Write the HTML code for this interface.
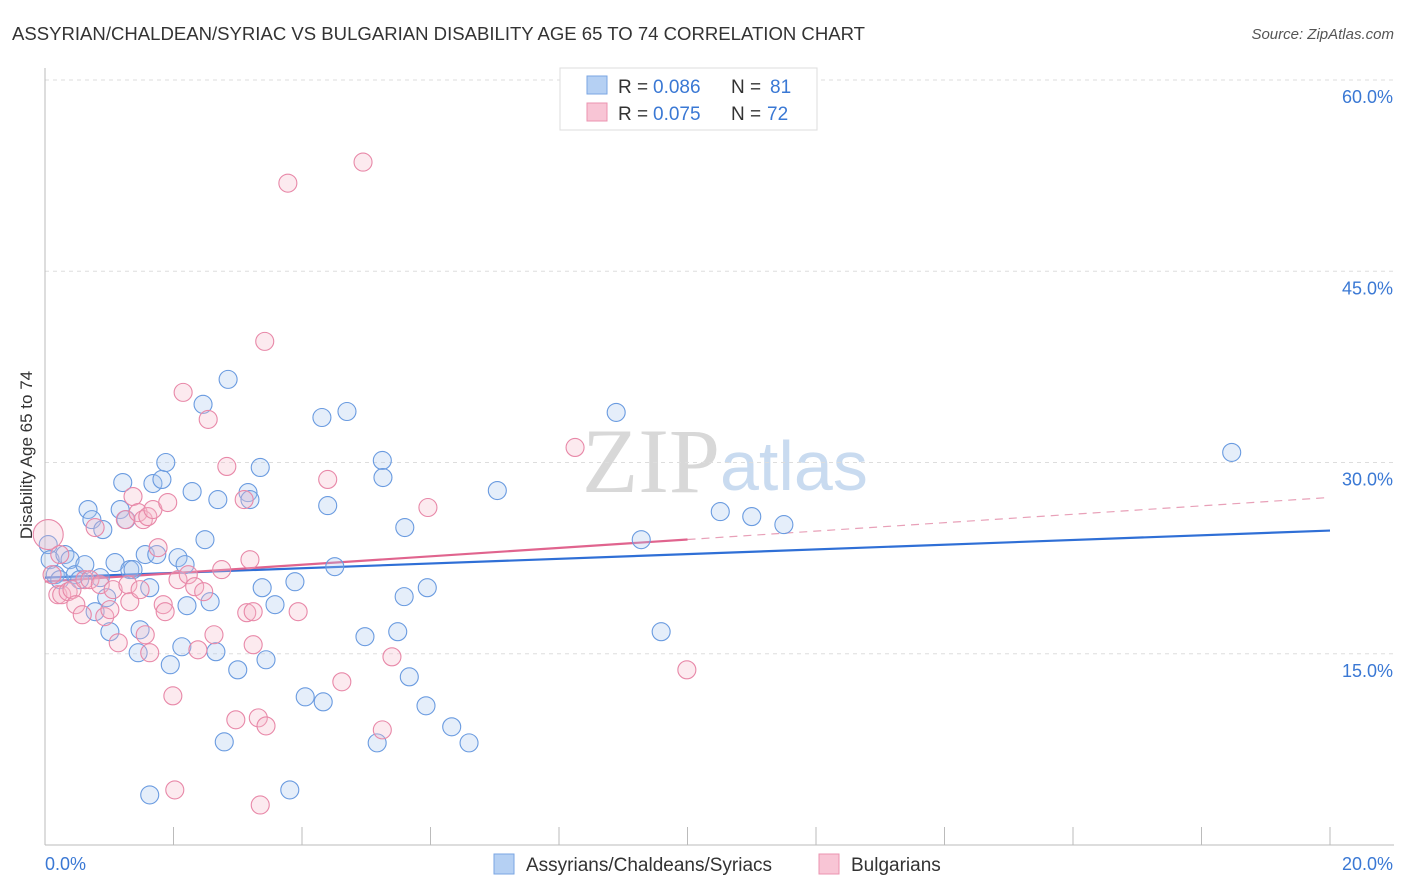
<!DOCTYPE html>
<html><head><meta charset="utf-8"><style>
body{margin:0;background:#fff;font-family:"Liberation Sans",sans-serif;}
svg{display:block}
</style></head><body>
<svg id="chart" width="1406" height="892" xmlns="http://www.w3.org/2000/svg">
<text x="12" y="40" font-size="18" fill="#333" textLength="853" lengthAdjust="spacingAndGlyphs">ASSYRIAN/CHALDEAN/SYRIAC VS BULGARIAN DISABILITY AGE 65 TO 74 CORRELATION CHART</text>
<text x="1394" y="39" font-size="15" fill="#555" text-anchor="end" font-style="italic">Source: ZipAtlas.com</text>
<text x="720" y="492" font-size="92" fill="#d8d8d8" text-anchor="end" font-family="Liberation Serif">ZIP</text>
<text x="720" y="490" font-size="70" fill="#c9dbf0">atlas</text>
<g id="grid"></g><g id="axes"></g><g id="lines"></g><g id="points"></g>
<text x="32" y="455" font-size="17" fill="#333" text-anchor="middle" transform="rotate(-90 32 455)">Disability Age 65 to 74</text>
<g>
<rect x="560" y="68" width="257" height="62" fill="#fff" stroke="#ddd"/>
<rect x="587" y="76" width="20" height="18" fill="#b5d0f3" stroke="#7aa6e3"/>
<text x="618" y="93" font-size="19" fill="#333">R = </text>
<text x="653" y="93" font-size="19" fill="#3a78d4">0.086</text>
<text x="731" y="93" font-size="19" fill="#333">N = </text>
<text x="770" y="93" font-size="19" fill="#3a78d4">81</text>
<rect x="587" y="103" width="20" height="18" fill="#f8c5d5" stroke="#eb93b0"/>
<text x="618" y="120" font-size="19" fill="#333">R = </text>
<text x="653" y="120" font-size="19" fill="#3a78d4">0.075</text>
<text x="731" y="120" font-size="19" fill="#333">N = </text>
<text x="767" y="120" font-size="19" fill="#3a78d4">72</text>
</g>
<g>
<rect x="494" y="854" width="20" height="20" fill="#b5d0f3" stroke="#7aa6e3"/>
<text x="526" y="871" font-size="19" fill="#333">Assyrians/Chaldeans/Syriacs</text>
<rect x="819" y="854" width="20" height="20" fill="#f8c5d5" stroke="#eb93b0"/>
<text x="851" y="871" font-size="19" fill="#333">Bulgarians</text>
</g>
</svg>
<script>
const xTicks=[0,20];
const yTicks=[15,30,45,60];
const blueX=[0.05,0.08,0.16,0.23,0.31,0.39,0.47,0.54,0.62,0.67,0.73,0.78,0.86,0.9,0.96,1.01,1.09,1.17,1.21,1.26,1.32,1.37,1.45,1.48,1.56,1.63,1.68,1.74,1.82,1.88,1.95,2.07,2.13,2.18,2.21,2.29,2.49,2.46,2.57,2.66,2.69,2.79,2.85,3.0,3.16,3.19,3.35,3.38,3.44,3.58,3.81,3.89,4.05,4.31,4.33,4.4,4.51,4.7,4.98,5.17,5.25,5.26,5.49,5.59,5.6,5.67,5.93,5.95,6.33,6.6,7.04,8.89,9.28,9.59,10.51,11.0,11.5,18.47,1.63];
const blueY=[23.56,22.38,21.2,20.81,22.78,22.38,21.2,20.81,21.99,26.31,25.52,18.3,20.97,24.74,19.4,16.73,22.15,26.31,28.43,25.52,21.6,21.6,15.08,16.88,22.78,20.18,28.35,22.78,28.67,30.0,14.14,22.54,15.55,21.99,18.77,27.72,23.95,34.56,19.08,15.16,27.09,8.09,36.52,13.74,27.64,27.09,29.61,20.18,14.53,18.85,4.32,20.65,11.62,33.53,11.23,26.62,21.83,34.0,16.34,8.01,30.16,28.82,16.73,19.48,24.9,13.19,10.92,20.18,9.27,8.01,27.8,33.93,23.95,16.73,26.15,25.76,25.13,30.79,3.93];
const pinkX=[0.05,0.11,0.2,0.26,0.36,0.42,0.48,0.58,0.62,0.7,0.78,0.86,0.93,1.01,1.06,1.14,1.25,1.29,1.32,1.37,1.45,1.53,1.56,1.6,1.63,1.68,1.76,1.84,1.87,1.91,1.99,2.07,2.15,2.23,2.33,2.38,2.47,2.54,2.63,2.75,2.83,2.97,3.1,3.14,3.19,3.24,3.24,3.32,3.35,3.42,3.44,3.78,3.94,4.4,4.62,4.95,5.25,5.4,5.96,8.25,9.99,2.02,0.23,1.48];
const pinkY=[24.35,21.2,19.63,19.63,19.87,20.03,18.85,18.06,20.81,20.81,24.9,20.42,17.91,18.46,20.03,15.86,25.52,20.42,19.08,27.33,26.07,25.52,16.49,25.76,15.08,26.31,23.32,18.85,18.3,26.86,11.7,20.81,35.5,21.2,20.26,15.31,19.87,33.38,16.49,21.6,29.69,9.82,27.09,18.22,22.38,18.3,15.71,9.97,3.14,39.5,9.34,51.91,18.3,28.67,12.8,53.56,9.03,14.76,26.47,31.18,13.74,4.32,22.78,20.03];
const blueTrend=[20.97,24.66];
const pinkTrend=[20.66,27.26];
const pinkSolidEnd=10;
const NS="http://www.w3.org/2000/svg";
const X0=45,X1=1330,YB=845,YT=80;
const sx=v=>X0+(v-xTicks[0])/(xTicks[1]-xTicks[0])*(X1-X0);
const sy=v=>YB-v/60*(YB-YT);
function mk(tag,attrs,parent){const e=document.createElementNS(NS,tag);for(const k in attrs)e.setAttribute(k,attrs[k]);document.getElementById(parent).appendChild(e);return e;}
yTicks.forEach(t=>{
 const g=mk('line',{x1:X0,x2:1394,y1:sy(t),y2:sy(t),stroke:'#ddd','stroke-dasharray':'4,4'},'grid');
 
 
 const l=mk('text',{x:1393,y:sy(t)+23,'font-size':18,fill:'#3a78d4','text-anchor':'end'},'grid');
 l.textContent=t.toFixed(1)+'%';
 
 
});
const ax=mk('line',{x1:X0,x2:1394,y1:YB,y2:YB,stroke:'#bbb'},'axes');


const ay=mk('line',{x1:X0,x2:X0,y1:68,y2:YB,stroke:'#bbb'},'axes');


for(let i=1;i<=10;i++){const t=mk('line',{x1:sx(i*2),x2:sx(i*2),y1:YB,y2:YB-18,stroke:'#bbb'},'axes');
 
 }
xTicks.forEach((t,i)=>{const l=mk('text',{x:i?1393:45,y:870,'font-size':18,fill:'#3a78d4','text-anchor':i?'end':'start'},'axes');
 l.textContent=t.toFixed(1)+'%';
 
 });
function dot(x,y,fill,stroke,r,name){const c=mk('circle',{cx:sx(x),cy:sy(y),r:r,fill:fill,'fill-opacity':0.3,stroke:stroke,'stroke-width':1.1},'points');
 
 }
blueX.forEach((x,i)=>dot(x,blueY[i],'#a9c8f0','#6a9be0',9,'assyrian-point'));
pinkX.forEach((x,i)=>dot(x,pinkY[i],'#f5b8cb','#e888a8',i===0?15:9,'bulgarian-point'));
const bl=mk('line',{x1:sx(0),y1:sy(blueTrend[0]),x2:sx(20),y2:sy(blueTrend[1]),stroke:'#2f6fd6','stroke-width':2.2},'lines');


const pm=pinkTrend[0]+(pinkTrend[1]-pinkTrend[0])*pinkSolidEnd/20;
const pl=mk('line',{x1:sx(0),y1:sy(pinkTrend[0]),x2:sx(pinkSolidEnd),y2:sy(pm),stroke:'#e0648e','stroke-width':2.2},'lines');


const pd=mk('line',{x1:sx(pinkSolidEnd),y1:sy(pm),x2:sx(20),y2:sy(pinkTrend[1]),stroke:'#e8a0b8','stroke-width':1.2,'stroke-dasharray':'8,6'},'lines');


</script>
</body></html>
